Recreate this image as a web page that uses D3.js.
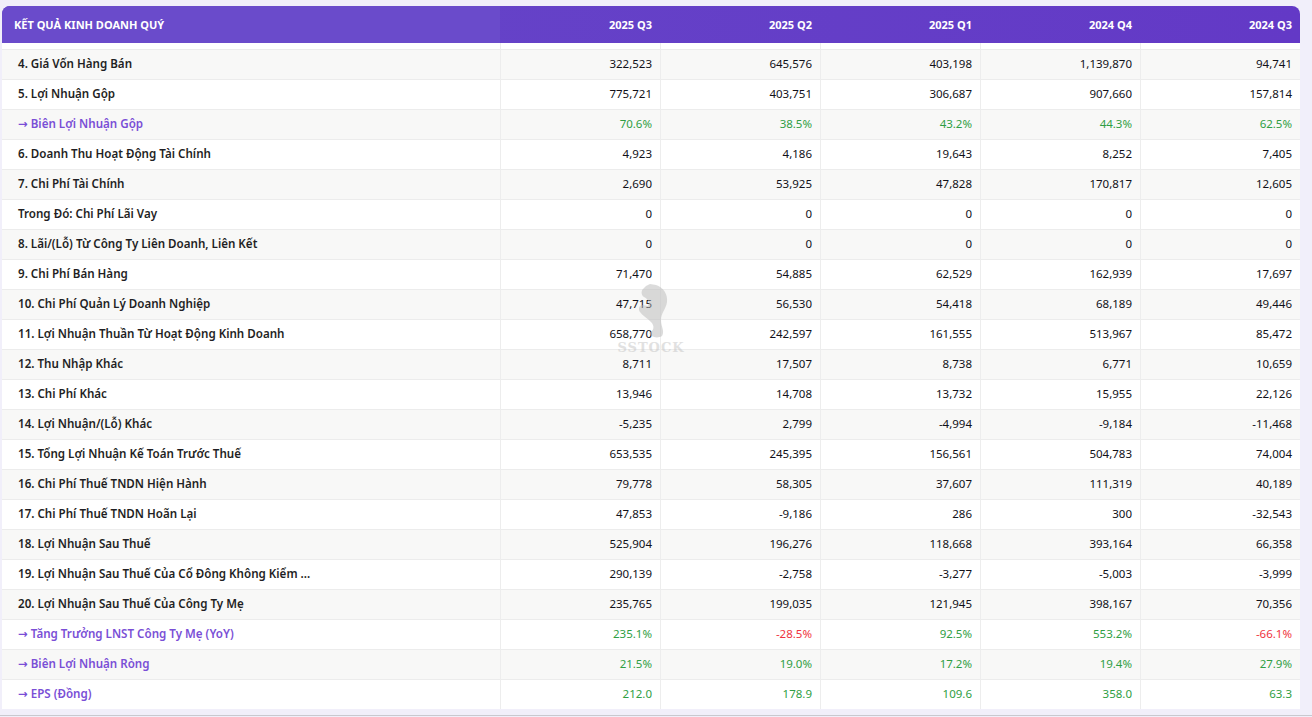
<!DOCTYPE html>
<html><head><meta charset="utf-8">
<script src="https://cdn.jsdelivr.net/npm/d3@7"></script>
<style>
html,body{margin:0;padding:0;background:#f1effa;}
svg{display:block;}
</style></head>
<body>
<svg id="c" width="1312" height="717"></svg>
<script>
const title = "KẾT QUẢ KINH DOANH QUÝ";
const quarters = ["2025 Q3","2025 Q2","2025 Q1","2024 Q4","2024 Q3"];
const rowLabels = [
 "4. Giá Vốn Hàng Bán",
 "5. Lợi Nhuận Gộp",
 "→ Biên Lợi Nhuận Gộp",
 "6. Doanh Thu Hoạt Động Tài Chính",
 "7. Chi Phí Tài Chính",
 "Trong Đó: Chi Phí Lãi Vay",
 "8. Lãi/(Lỗ) Từ Công Ty Liên Doanh, Liên Kết",
 "9. Chi Phí Bán Hàng",
 "10. Chi Phí Quản Lý Doanh Nghiệp",
 "11. Lợi Nhuận Thuần Từ Hoạt Động Kinh Doanh",
 "12. Thu Nhập Khác",
 "13. Chi Phí Khác",
 "14. Lợi Nhuận/(Lỗ) Khác",
 "15. Tổng Lợi Nhuận Kế Toán Trước Thuế",
 "16. Chi Phí Thuế TNDN Hiện Hành",
 "17. Chi Phí Thuế TNDN Hoãn Lại",
 "18. Lợi Nhuận Sau Thuế",
 "19. Lợi Nhuận Sau Thuế Của Cổ Đông Không Kiểm ...",
 "20. Lợi Nhuận Sau Thuế Của Công Ty Mẹ",
 "→ Tăng Trưởng LNST Công Ty Mẹ (YoY)",
 "→ Biên Lợi Nhuận Ròng",
 "→ EPS (Đồng)"
];
// "num" = thousands, "pct" = percent, "eps" = one decimal
const rowKinds = ["num","num","pct","num","num","num","num","num","num","num","num","num","num","num","num","num","num","num","num","pct","pct","eps"];
const q2025Q3 = [322523,775721,70.6,4923,2690,0,0,71470,47715,658770,8711,13946,-5235,653535,79778,47853,525904,290139,235765,235.1,21.5,212.0];
const q2025Q2 = [645576,403751,38.5,4186,53925,0,0,54885,56530,242597,17507,14708,2799,245395,58305,-9186,196276,-2758,199035,-28.5,19.0,178.9];
const q2025Q1 = [403198,306687,43.2,19643,47828,0,0,62529,54418,161555,8738,13732,-4994,156561,37607,286,118668,-3277,121945,92.5,17.2,109.6];
const q2024Q4 = [1139870,907660,44.3,8252,170817,0,0,162939,68189,513967,6771,15955,-9184,504783,111319,300,393164,-5003,398167,553.2,19.4,358.0];
const q2024Q3 = [94741,157814,62.5,7405,12605,0,0,17697,49446,85472,10659,22126,-11468,74004,40189,-32543,66358,-3999,70356,-66.1,27.9,63.3];
const columns = [q2025Q3,q2025Q2,q2025Q1,q2024Q4,q2024Q3];

const svg = d3.select("#c");
const FONT = "'Noto Sans', 'DejaVu Sans', sans-serif";
const tableLeft = 2, tableRight = 1300, labelRight = 500;
const headTop = 6, headBottom = 43, rowsTop = 49, rowsBottom = 709;

const x = d3.scaleBand().domain(quarters).range([labelRight, tableRight]);
const y = d3.scaleBand().domain(d3.range(rowLabels.length)).range([rowsTop, rowsBottom]);

const loc = d3.formatLocale({decimal:".", thousands:",", grouping:[3], currency:["",""], minus:"-"});

const g = svg.append("g");

// table body background
g.append("rect").attr("x",tableLeft).attr("y",headBottom).attr("width",tableRight-tableLeft).attr("height",rowsBottom-headBottom).attr("fill","#ffffff");

// rows
const rows = g.selectAll("g.row").data(rowLabels.map((l,i)=>({label:l,i,kind:rowKinds[i]}))).join("g").attr("class","row");
rows.append("rect")
  .attr("x",tableLeft).attr("y",d=>y(d.i)).attr("width",tableRight-tableLeft).attr("height",y.bandwidth())
  .attr("fill",d=>d.i%2===0?"#f8f8f7":"#ffffff");
rows.append("line")
  .attr("x1",tableLeft).attr("x2",tableRight).attr("y1",d=>y(d.i)+0.5).attr("y2",d=>y(d.i)+0.5)
  .attr("stroke","#ececec");

// column separators
g.selectAll("line.col").data(quarters).join("line").attr("class","col")
  .attr("x1",d=>x(d)+0.5).attr("x2",d=>x(d)+0.5).attr("y1",headBottom).attr("y2",rowsBottom)
  .attr("stroke","#ededed");

// labels
rows.append("text")
  .attr("x",18).attr("y",d=>y(d.i)+y.bandwidth()/2+4)
  .attr("font-family",FONT).attr("font-size",11.6).attr("font-weight",600)
  .attr("fill",d=>d.label.startsWith("→")?"#7a4fd6":"#1f1f24")
  .text(d=>d.label);

// values
const fmtNum = loc.format(",.0f");
const fmtPct = v=>loc.format(".1f")(v)+"%";
const fmtEps = loc.format(".1f");
quarters.forEach((q,ci)=>{
  const vals = columns[ci];
  g.selectAll("text.v"+ci).data(vals).join("text").attr("class","v"+ci)
    .attr("x",x(q)+x.bandwidth()-8).attr("y",(d,i)=>y(i)+y.bandwidth()/2+4)
    .attr("text-anchor","end")
    .attr("font-family",FONT).attr("font-size",11.5)
    .attr("fill",(d,i)=>{
      const k=rowKinds[i];
      if(k==="num") return "#111118";
      return d<0?"#ef3340":"#2f9e44";
    })
    .text((d,i)=>{
      const k=rowKinds[i];
      if(k==="pct") return fmtPct(d);
      if(k==="eps") return fmtEps(d);
      return fmtNum(d);
    });
});

// header
const defs = svg.append("defs");
const grad = defs.append("linearGradient").attr("id","hg").attr("x1","0").attr("x2","1");
grad.append("stop").attr("offset","0").attr("stop-color","#6647c9");
grad.append("stop").attr("offset","1").attr("stop-color","#6339c6");
const hp = d3.path();
const r=8, hh=headBottom-headTop;
hp.moveTo(tableLeft, headBottom);
hp.lineTo(tableLeft, headTop+r);
hp.arcTo(tableLeft, headTop, tableLeft+r, headTop, r);
hp.lineTo(tableRight-r, headTop);
hp.arcTo(tableRight, headTop, tableRight, headTop+r, r);
hp.lineTo(tableRight, headBottom);
hp.closePath();
g.append("path").attr("d",hp.toString()).attr("fill","url(#hg)");
g.append("rect").attr("x",tableLeft).attr("y",headTop+r).attr("width",labelRight-tableLeft).attr("height",hh-r).attr("fill","#6a4bcb");
g.append("path").attr("d",`M${tableLeft},${headTop+r} A${r},${r} 0 0 1 ${tableLeft+r},${headTop} L${labelRight},${headTop} L${labelRight},${headTop+r} Z`).attr("fill","#6a4bcb");

g.append("text").attr("x",14).attr("y",(headTop+headBottom)/2+4)
  .attr("font-family",FONT).attr("font-size",11).attr("font-weight",700).attr("fill","#ffffff")
  .text(title);
g.selectAll("text.qh").data(quarters).join("text").attr("class","qh")
  .attr("x",d=>x(d)+x.bandwidth()-8).attr("y",(headTop+headBottom)/2+4)
  .attr("text-anchor","end")
  .attr("font-family",FONT).attr("font-size",11).attr("font-weight",700).attr("fill","#ffffff")
  .text(d=>d);

// watermark (knight head + brand)
const wm = svg.append("g").attr("opacity",0.5);
wm.append("path")
  .attr("d","M646,286 L650,284 L656,285 C663,287 668,294 667,302 C666,309 661,313 661,320 C661,327 665,331 662,336 C657,339 651,337 649,333 C654,331 655,326 651,322 C647,318 643,316 640,312 C638,309 639,306 642,305 L648,306 C650,303 648,299 644,297 C641,295 641,291 643,289 Z")
  .attr("fill","#b9b9b9");
wm.append("text").attr("x",651).attr("y",352).attr("text-anchor","middle")
  .attr("font-family","'DejaVu Serif', serif").attr("font-weight",700).attr("font-size",13)
  .attr("letter-spacing",1).attr("fill","#c4c4c4").text("SSTOCK");

// bottom line
svg.append("line").attr("x1",0).attr("x2",1312).attr("y1",715.5).attr("y2",715.5).attr("stroke","#c9c9cf");
</script>
</body></html>
